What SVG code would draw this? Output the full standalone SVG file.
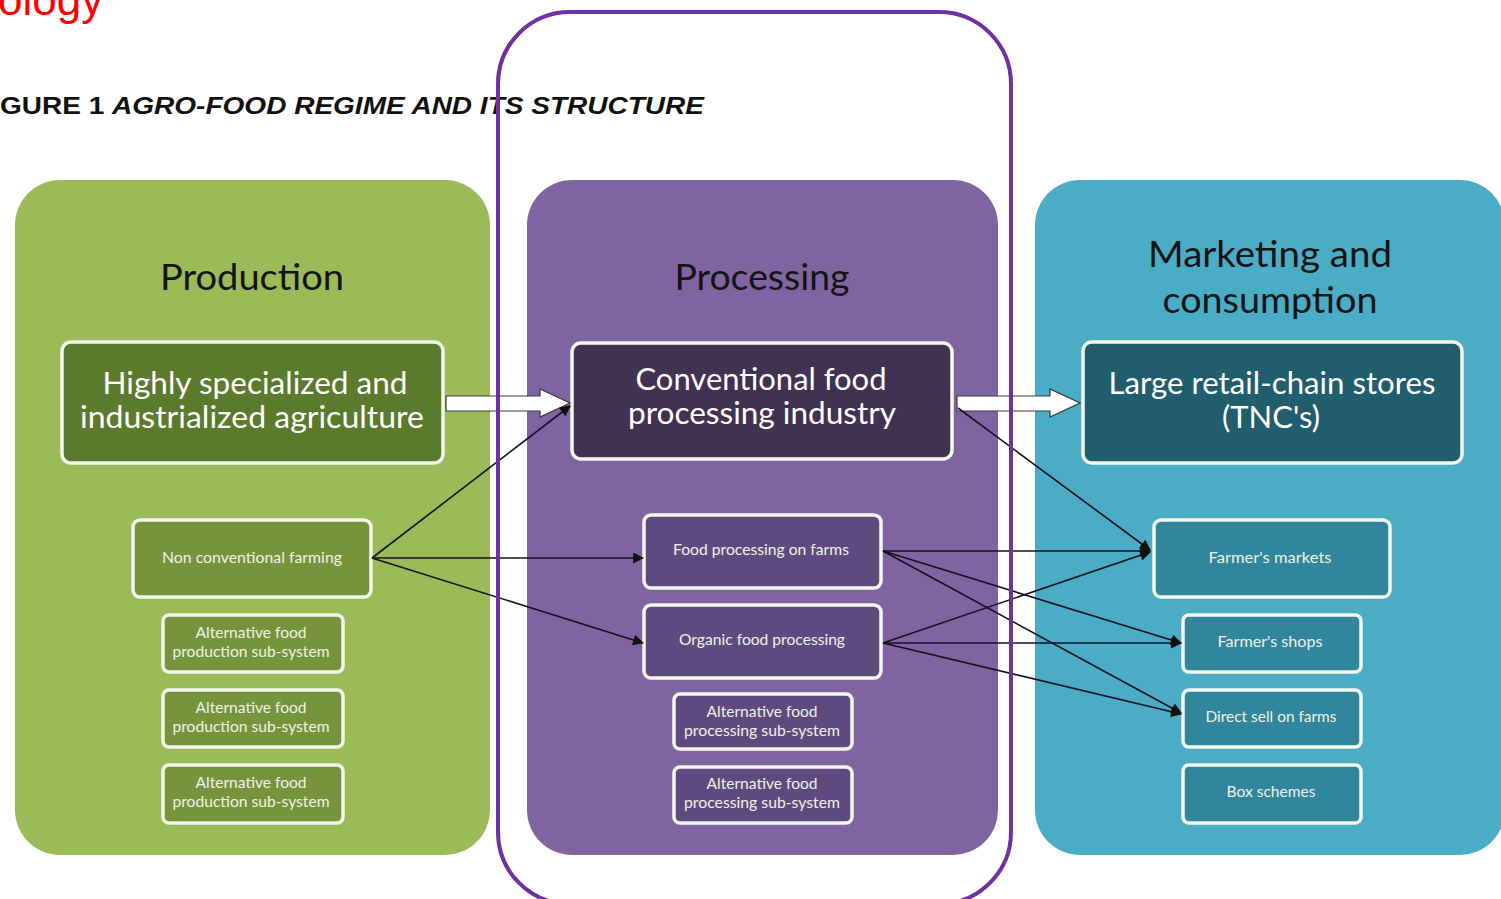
<svg xmlns="http://www.w3.org/2000/svg" width="1501" height="899" viewBox="0 0 1501 899">
<defs>
<style>
.hdr{font-family:Lato,"Open Sans",sans-serif;font-size:36px;fill:#141414;text-anchor:middle}
.big{font-family:Lato,"Open Sans",sans-serif;font-size:30px;fill:#ffffff;text-anchor:middle}
.sm{font-family:Lato,"Open Sans",sans-serif;font-size:15px;fill:#eef3e6;text-anchor:middle}
.bx{stroke:#f4f7ee;stroke-width:3.5}
.ln{stroke:#151020;stroke-width:1.6;fill:none;marker-end:url(#ah)}
.blk{fill:#ffffff;stroke:#3a3a3a;stroke-width:1.2}
</style>
<marker id="ah" viewBox="0 0 10 10" refX="9" refY="5" markerWidth="12" markerHeight="11" markerUnits="userSpaceOnUse" orient="auto">
<path d="M0,0 L10,5 L0,10 Z" fill="#111"/>
</marker>
</defs>
<rect width="1501" height="899" fill="#ffffff"/>
<text x="-2" y="15" font-family="Liberation Sans,Arial,sans-serif" font-size="44" fill="#ff0000">ology</text>
<text x="0" y="114" font-family="Liberation Sans,Arial,sans-serif" font-size="23" font-weight="bold" fill="#111" textLength="704" lengthAdjust="spacingAndGlyphs">GURE 1 <tspan font-style="italic">AGRO-FOOD REGIME AND ITS STRUCTURE</tspan></text>

<g id="col-production">
<rect x="15" y="180" width="475" height="675" rx="45" fill="#9bbb59"/>
<text class="hdr" x="252" y="290" textLength="184" lengthAdjust="spacingAndGlyphs">Production</text>
</g>
<g id="col-processing">
<rect x="527" y="180" width="471" height="675" rx="45" fill="#8064a2"/>
<text class="hdr" x="762" y="290" textLength="175" lengthAdjust="spacingAndGlyphs">Processing</text>
</g>
<g id="col-marketing">
<rect x="1035" y="180" width="470" height="675" rx="45" fill="#4bacc6"/>
<text class="hdr" x="1270" y="267" textLength="244" lengthAdjust="spacingAndGlyphs">Marketing and</text>
<text class="hdr" x="1270" y="313" textLength="215" lengthAdjust="spacingAndGlyphs">consumption</text>
</g>

<g id="n-industrial-agri">
<rect class="bx" x="62" y="342" width="381" height="121" rx="9" fill="#5a7a2c"/>
<text class="big" x="255" y="394" textLength="305" lengthAdjust="spacingAndGlyphs">Highly specialized and</text>
<text class="big" x="252" y="428" textLength="344" lengthAdjust="spacingAndGlyphs">industrialized agriculture</text>
</g>
<g id="n-conv-processing">
<rect class="bx" x="572" y="343" width="380" height="116" rx="9" fill="#413252"/>
<text class="big" x="761" y="390" textLength="251" lengthAdjust="spacingAndGlyphs">Conventional food</text>
<text class="big" x="762" y="424" textLength="268" lengthAdjust="spacingAndGlyphs">processing industry</text>
</g>
<g id="n-retail">
<rect class="bx" x="1083" y="342" width="379" height="121" rx="9" fill="#215e6d"/>
<text class="big" x="1272" y="394" textLength="327" lengthAdjust="spacingAndGlyphs">Large retail-chain stores</text>
<text class="big" x="1271" y="428" textLength="98" lengthAdjust="spacingAndGlyphs">(TNC's)</text>
</g>

<g id="n-nonconv">
<rect class="bx" x="133" y="520" width="238" height="77" rx="7" fill="#77933c"/>
<text class="sm" x="252" y="563" textLength="180" lengthAdjust="spacingAndGlyphs">Non conventional farming</text>
</g>
<g id="n-altprod1">
<rect class="bx" x="163" y="615" width="180" height="57" rx="6" fill="#77933c"/>
<text class="sm" x="251" y="638" textLength="111" lengthAdjust="spacingAndGlyphs">Alternative food</text>
<text class="sm" x="251" y="657" textLength="157" lengthAdjust="spacingAndGlyphs">production sub-system</text>
</g>
<g id="n-altprod2">
<rect class="bx" x="163" y="690" width="180" height="57" rx="6" fill="#77933c"/>
<text class="sm" x="251" y="713" textLength="111" lengthAdjust="spacingAndGlyphs">Alternative food</text>
<text class="sm" x="251" y="732" textLength="157" lengthAdjust="spacingAndGlyphs">production sub-system</text>
</g>
<g id="n-altprod3">
<rect class="bx" x="163" y="765" width="180" height="58" rx="6" fill="#77933c"/>
<text class="sm" x="251" y="788" textLength="111" lengthAdjust="spacingAndGlyphs">Alternative food</text>
<text class="sm" x="251" y="807" textLength="157" lengthAdjust="spacingAndGlyphs">production sub-system</text>
</g>

<g id="n-onfarm">
<rect class="bx" x="644" y="515" width="237" height="73" rx="7" fill="#5f4a7f"/>
<text class="sm" x="761" y="555" textLength="176" lengthAdjust="spacingAndGlyphs">Food processing on farms</text>
</g>
<g id="n-organic">
<rect class="bx" x="644" y="605" width="237" height="73" rx="7" fill="#5f4a7f"/>
<text class="sm" x="762" y="645" textLength="166" lengthAdjust="spacingAndGlyphs">Organic food processing</text>
</g>
<g id="n-altproc1">
<rect class="bx" x="674" y="694" width="178" height="55" rx="6" fill="#5f4a7f"/>
<text class="sm" x="762" y="717" textLength="111" lengthAdjust="spacingAndGlyphs">Alternative food</text>
<text class="sm" x="762" y="736" textLength="156" lengthAdjust="spacingAndGlyphs">processing sub-system</text>
</g>
<g id="n-altproc2">
<rect class="bx" x="674" y="767" width="178" height="56" rx="6" fill="#5f4a7f"/>
<text class="sm" x="762" y="789" textLength="111" lengthAdjust="spacingAndGlyphs">Alternative food</text>
<text class="sm" x="762" y="808" textLength="156" lengthAdjust="spacingAndGlyphs">processing sub-system</text>
</g>

<g id="n-markets">
<rect class="bx" x="1154" y="520" width="236" height="77" rx="7" fill="#31859c"/>
<text class="sm" x="1270" y="563" textLength="123" lengthAdjust="spacingAndGlyphs">Farmer's markets</text>
</g>
<g id="n-shops">
<rect class="bx" x="1183" y="615" width="178" height="57" rx="6" fill="#31859c"/>
<text class="sm" x="1270" y="647" textLength="105" lengthAdjust="spacingAndGlyphs">Farmer's shops</text>
</g>
<g id="n-directsell">
<rect class="bx" x="1183" y="690" width="178" height="57" rx="6" fill="#31859c"/>
<text class="sm" x="1271" y="722" textLength="131" lengthAdjust="spacingAndGlyphs">Direct sell on farms</text>
</g>
<g id="n-box">
<rect class="bx" x="1183" y="765" width="178" height="58" rx="6" fill="#31859c"/>
<text class="sm" x="1271" y="797" textLength="89" lengthAdjust="spacingAndGlyphs">Box schemes</text>
</g>

<g id="connectors">
<path class="blk" d="M446,396 L540,396 L540,389 L570,403 L540,417 L540,411 L446,411 Z"/>
<path class="blk" d="M957,396 L1050,396 L1050,389 L1080,403 L1050,417 L1050,411 L957,411 Z"/>
<line class="ln" x1="372" y1="558" x2="570" y2="406"/>
<line class="ln" x1="372" y1="558" x2="643" y2="558"/>
<line class="ln" x1="372" y1="558" x2="643" y2="643"/>
<line class="ln" x1="958" y1="408" x2="1150" y2="550"/>
<line class="ln" x1="883" y1="551" x2="1150" y2="551"/>
<line class="ln" x1="883" y1="551" x2="1181" y2="643"/>
<line class="ln" x1="883" y1="551" x2="1181" y2="713"/>
<line class="ln" x1="883" y1="643" x2="1150" y2="552"/>
<line class="ln" x1="883" y1="643" x2="1181" y2="643"/>
<line class="ln" x1="883" y1="643" x2="1181" y2="714"/>
</g>

<rect x="498" y="12" width="513" height="892" rx="72" fill="none" stroke="#7030a0" stroke-width="4"/>
</svg>
